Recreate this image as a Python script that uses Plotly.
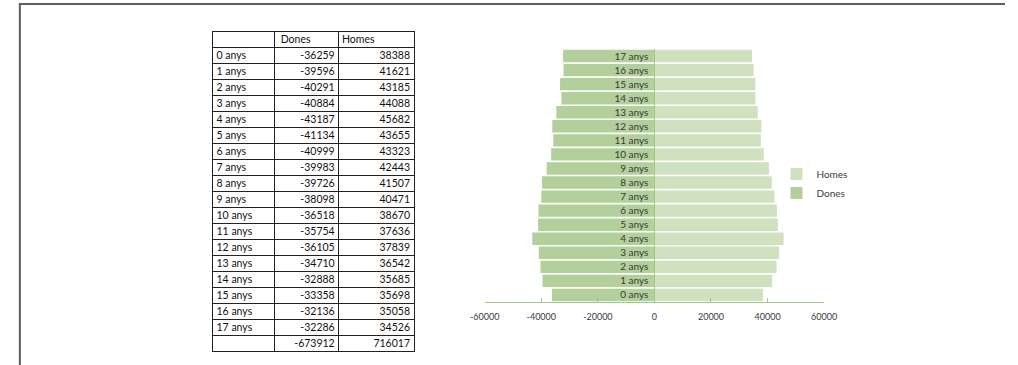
import plotly.graph_objects as go

W, H = 1018, 365

categories = [f"{i} anys" for i in range(18)]
dones = [-36259, -39596, -40291, -40884, -43187, -41134, -40999, -39983, -39726,
         -38098, -36518, -35754, -36105, -34710, -32888, -33358, -32136, -32286]
homes = [38388, 41621, 43185, 44088, 45682, 43655, 43323, 42443, 41507,
         40471, 38670, 37636, 37839, 36542, 35685, 35698, 35058, 34526]
header = ["", "Dones", "Homes"]
x_ticks = [-60000, -40000, -20000, 0, 20000, 40000, 60000]

C_DONES = "#b3cf9b"
C_HOMES = "#d0e1c0"
AXIS_GREEN = "#a3c68a"
TXT = "#3a3a3a"
FONT = "Lato"
CLEAR = "rgba(0,0,0,0)"

fig = go.Figure()

# ---- table ----
col_labels = categories + [""]
col_dones = [str(v) for v in dones] + [str(sum(dones))]
col_homes = [str(v) for v in homes] + [str(sum(homes))]
n_rows = len(col_labels)
blank = [""] * n_rows

TOP = 31          # px, top of the table grid
ROW_H = 16
TXT_UP = 4        # plotly places cell text low; lift the text layer

def ydom(top_px):
    return [0.0, 1 - top_px / H]

# grid
fig.add_trace(go.Table(
    domain=dict(x=[203 / W, 411 / W], y=ydom(TOP)),
    columnwidth=[64, 66, 78],
    header=dict(values=["", "", ""], height=ROW_H,
                line=dict(color="#222", width=1), fill=dict(color="white")),
    cells=dict(values=[blank, blank, blank], height=ROW_H,
               line=dict(color="#222", width=1), fill=dict(color="white")),
))

# text layer, one column each (plotly pads 8px inside a cell)
text_cols = [
    (header[0], col_labels, "left", "left", 199, 267),
    (header[1], col_dones, "left", "right", 265, 337),
    (header[2], col_homes, "left", "right", 328, 415),
]
for head, vals, halign, calign, x0, x1 in text_cols:
    fig.add_trace(go.Table(
        domain=dict(x=[x0 / W, x1 / W], y=ydom(TOP - TXT_UP)),
        header=dict(values=[head], height=ROW_H, align=halign,
                    line=dict(color=CLEAR, width=0), fill=dict(color=CLEAR),
                    font=dict(family=FONT, size=10.5, color="#111")),
        cells=dict(values=[vals], height=ROW_H, align=calign,
                   line=dict(color=CLEAR, width=0), fill=dict(color=CLEAR),
                   font=dict(family=FONT, size=10.5, color="#111")),
    ))

# ---- pyramid ----
fig.add_trace(go.Bar(y=categories, x=homes, orientation="h", name="Homes",
                     marker=dict(color=C_HOMES, line=dict(width=0))))
fig.add_trace(go.Bar(y=categories, x=dones, orientation="h", name="Dones",
                     marker=dict(color=C_DONES, line=dict(width=0))))

xd = [483 / W, 832 / W]
x_zero_paper = xd[0] + (0 - x_ticks[0]) / (x_ticks[-1] - x_ticks[0]) * (xd[1] - xd[0])

fig.update_layout(
    width=W, height=H, autosize=False,
    margin=dict(l=0, r=0, t=0, b=0),
    paper_bgcolor="white", plot_bgcolor="white",
    barmode="overlay", bargap=0.12,
    showlegend=True,
    legend=dict(x=783 / W, y=1 - 183.5 / H, xanchor="left", yanchor="middle",
                traceorder="normal", font=dict(family=FONT, size=10, color=TXT),
                bgcolor=CLEAR, itemwidth=30),
    xaxis=dict(domain=xd, range=[x_ticks[0], x_ticks[-1]], tickvals=x_ticks,
               ticktext=[str(v) for v in x_ticks],
               showgrid=False, zeroline=False, showline=True,
               linecolor=AXIS_GREEN, linewidth=1, ticks="inside", ticklen=4,
               tickcolor=AXIS_GREEN, ticklabelstandoff=6,
               tickfont=dict(family=FONT, size=9, color=TXT), fixedrange=True),
    yaxis=dict(domain=[1 - 302 / H, 1 - 49 / H], type="category",
               categoryorder="array", categoryarray=categories,
               anchor="free", position=x_zero_paper, side="left",
               showgrid=False, zeroline=False, showline=True,
               linecolor=AXIS_GREEN, linewidth=1, ticks="",
               ticklabelstandoff=4,
               tickfont=dict(family=FONT, size=10, color=TXT), fixedrange=True),
    shapes=[
        dict(type="line", xref="paper", yref="paper", x0=4 / W, x1=1.0,
             y0=1 - 4 / H, y1=1 - 4 / H, line=dict(color="#5e5e5e", width=2)),
        dict(type="line", xref="paper", yref="paper", x0=5 / W, x1=5 / W,
             y0=0, y1=1 - 4 / H, line=dict(color="#5e5e5e", width=2)),
    ],
)

fig.write_html("out.html")
